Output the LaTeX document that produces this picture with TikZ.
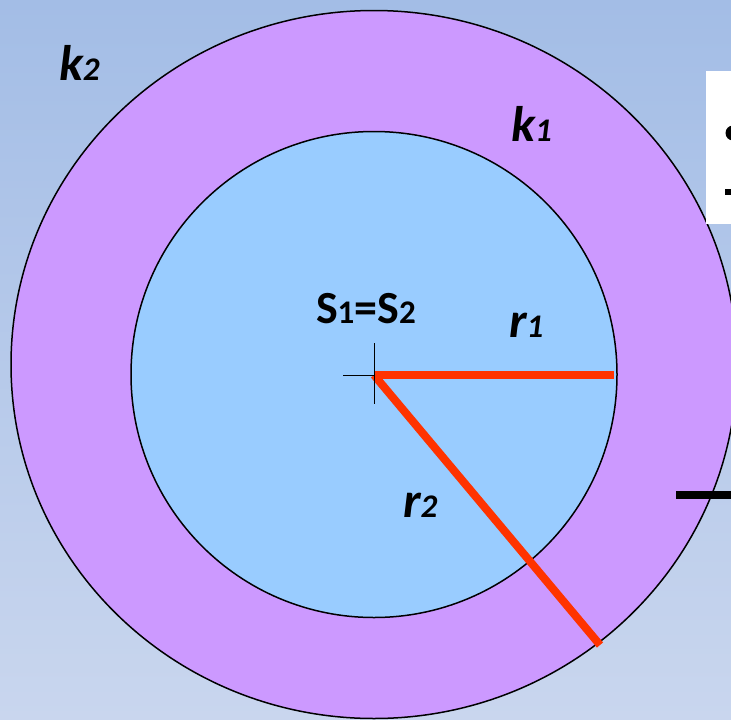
\documentclass[tikz,border=0pt]{standalone}
\usepackage{fontspec}
\setmainfont{Carlito}
\definecolor{bgtop}{RGB}{163,189,230}
\definecolor{bgbot}{RGB}{201,214,238}
\definecolor{ring}{RGB}{204,153,255}
\definecolor{core}{RGB}{153,204,255}
\definecolor{radred}{RGB}{255,51,0}
\tikzset{
  x=1pt,y=-1pt,
  lbl/.style={anchor=base west,inner sep=0pt,outer sep=0pt,font=\bfseries\itshape\fontsize{50}{50}\selectfont},
  slbl/.style={anchor=base west,inner sep=0pt,outer sep=0pt,font=\bfseries\fontsize{46}{46}\selectfont},
  radius line/.style={draw=radred,line width=8pt},
  rim/.style={draw=black,line width=1.5pt},
}
\newcommand{\dg}[1]{{\fontsize{33}{33}\selectfont #1}}
\begin{document}
\begin{tikzpicture}
\useasboundingbox (0,0) rectangle (731,720);
\shade[top color=bgtop,bottom color=bgbot] (0,0) rectangle (731,720);
% circles
\draw[rim,fill=ring] (374,364.5) ellipse [x radius=363,y radius=354];
\draw[rim,fill=core] (374,374.5) circle [radius=243];
% points
\coordinate (S) at (374,375);
\coordinate (A) at (614,375);
\coordinate (B) at (600,645);
\coordinate (cl) at (343,375);
\coordinate (ct) at (374,343);
\coordinate (cb) at (374,404);
\draw[radius line] (S) -- (A);
\draw[radius line] (S) -- (B);
\draw[line width=1pt] (cl) -- (S);
\draw[line width=1pt] (ct) -- (cb);
% labels
\node[lbl] (k2) at (59,80) {k\dg{2}};
\node[lbl] (k1) at (511,141) {k\dg{1}};
\node[slbl] (S12) at (316,323) {S\dg{1}=S\dg{2}};
\node[lbl] (r1) at (509,337) {r\dg{1}};
\node[lbl] (r2) at (403,517) {r\dg{2}};
% partial box at the right
\fill[white] (706,71) rectangle (740,224);
\fill[black] (733,133) circle [radius=7.5];
\fill[black] (725,189) rectangle (735,195);
\fill[black] (676,491) rectangle (735,499);
\end{tikzpicture}
\end{document}
